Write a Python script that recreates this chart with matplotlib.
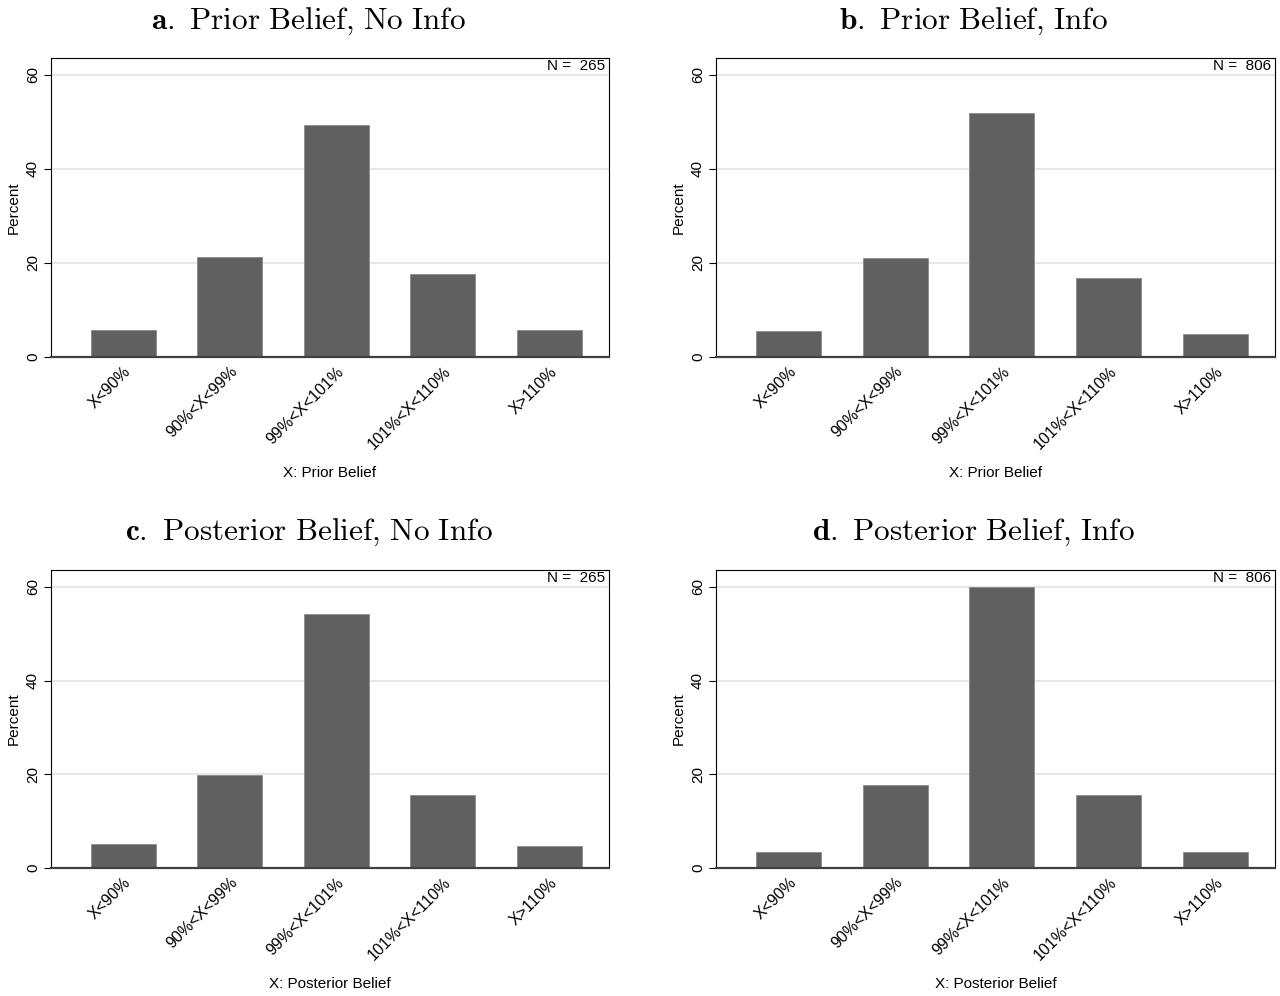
import matplotlib
matplotlib.use("Agg")
import matplotlib.pyplot as plt
import numpy as np

plt.rcParams['font.family'] = ['Liberation Sans', 'DejaVu Sans']
plt.rcParams['mathtext.fontset'] = 'cm'

# categories and data (percent of respondents)
categories = ['X<90%', '90%<X<99%', '99%<X<101%', '101%<X<110%', 'X>110%']
prior_noinfo = [5.7, 21.3, 49.4, 17.7, 5.7]
prior_info = [5.6, 21.0, 51.8, 16.8, 4.9]
post_noinfo = [5.15, 19.9, 54.3, 15.5, 4.6]
post_info = [3.5, 17.8, 60.0, 15.5, 3.45]

panels = [
    ('a.', 'Prior Belief, No Info', prior_noinfo, 265, 'X: Prior Belief'),
    ('b.', 'Prior Belief, Info', prior_info, 806, 'X: Prior Belief'),
    ('c.', 'Posterior Belief, No Info', post_noinfo, 265, 'X: Posterior Belief'),
    ('d.', 'Posterior Belief, Info', post_info, 806, 'X: Posterior Belief'),
]

W, H = 1280, 996
fig = plt.figure(figsize=(W / 100, H / 100), dpi=100)

# axes boxes in pixels: left, top, right, bottom
boxes = [(51, 58, 609, 357), (716, 58, 1275, 357),
         (51, 570, 609, 868), (716, 570, 1275, 868)]
title_pos = [(309, 21), (974, 21), (309, 532), (974, 532)]

x = np.arange(1, 6)
for (letter, name, vals, n, xlab), (l, t, r, b), (tx, ty) in zip(panels, boxes, title_pos):
    ax = fig.add_axes([l / W, 1 - b / H, (r - l) / W, (b - t) / H])
    ax.bar(x, vals, width=0.61, color='#606060', edgecolor='#8a8a8a', linewidth=0.6, zorder=2)
    ax.set_xlim(0.32, 5.56)
    ax.set_ylim(0, 63.6)
    ax.set_yticks([0, 20, 40, 60])
    ax.yaxis.grid(True, color='#e3e3e3', linewidth=1.2)
    ax.set_axisbelow(True)
    ax.tick_params(axis='y', length=5, width=0.8, labelsize=11, pad=3)
    for lab in ax.get_yticklabels():
        lab.set_rotation(90)
        lab.set_va('center')
    ax.set_xticks(x)
    ax.set_xticklabels(categories, rotation=45, ha='right', rotation_mode='anchor', fontsize=11.5)
    ax.tick_params(axis='x', length=0, pad=5)
    for s in ['top', 'right', 'left']:
        ax.spines[s].set_color('black')
        ax.spines[s].set_linewidth(0.8)
    ax.spines['bottom'].set_color('#404040')
    ax.spines['bottom'].set_linewidth(1.6)
    ax.set_ylabel('Percent', fontsize=11)
    ax.yaxis.set_label_coords(-0.055, 0.5)
    ax.set_xlabel(xlab, fontsize=11)
    ax.xaxis.set_label_coords(0.5, -0.365)
    ax.text(0.993, 0.997, 'N =  %d' % n, transform=ax.transAxes, ha='right', va='top', fontsize=11)
    body = name.replace(',', '{,}').replace(' ', r'\ ')
    title = r'$\mathbf{%s}\ \mathrm{%s}$' % (letter, body)
    fig.text(tx / W, 1 - ty / H, title, ha='center', va='center', fontsize=22.5)

fig.savefig('out.png', dpi=100)
